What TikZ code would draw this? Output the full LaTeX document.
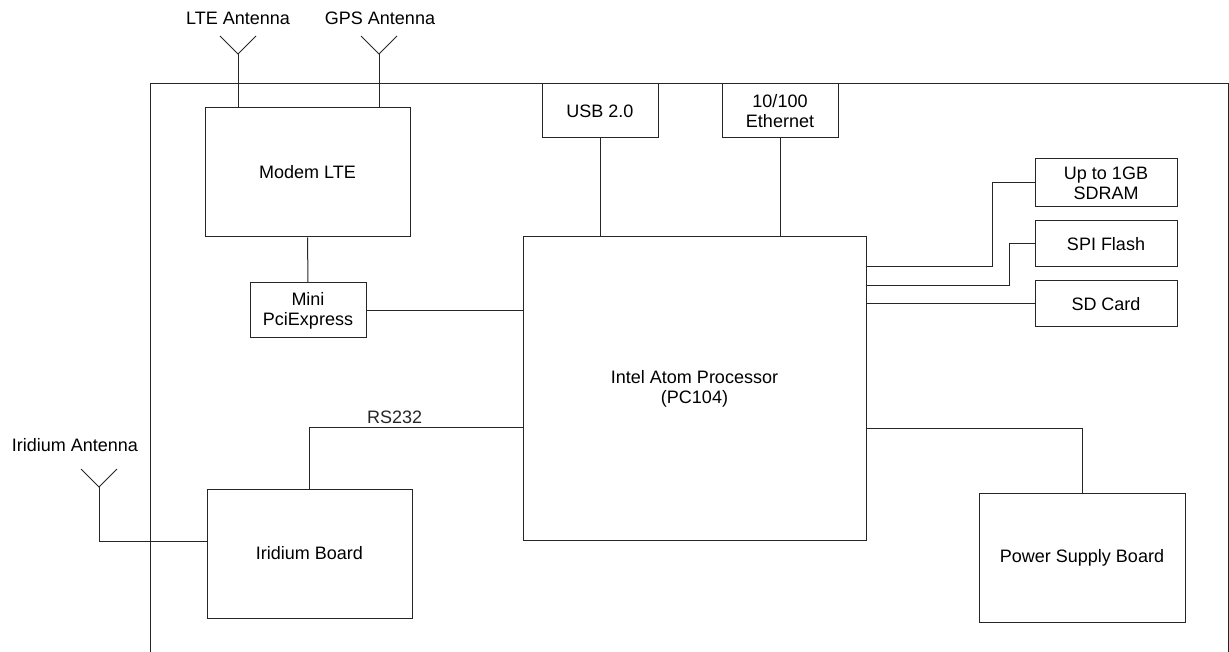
\documentclass[tikz,border=0pt]{standalone}
\usepackage{fontspec}
\setmainfont{Liberation Sans}
\usetikzlibrary{positioning}

\tikzset{
  block/.style={draw, black!85, text=black, inner sep=0pt, align=center},
  wire/.style={black!85, line width=1pt},
}

\begin{document}
\begin{tikzpicture}[x=1pt, y=-1pt, line width=1pt, font=\fontsize{18}{20}\selectfont]
\useasboundingbox (0,0) rectangle (1229,652);
% board outline
\draw [black!85] (150,652) -- (150,84) -- (1228,84) -- (1228,652);
% boxes
\node [block, minimum width=205, minimum height=129] (modem) at (307.5,172.5) {Modem LTE};
\node [block, minimum width=116, minimum height=55] (mini) at (308,310.5) {Mini\\PciExpress};
\node [block, minimum width=343, minimum height=303] (proc) at (694.5,388.5) {Intel Atom Processor\\(PC104)};
\node [block, minimum width=116, minimum height=54] (usb) at (600,111) {USB 2.0};
\node [block, minimum width=116, minimum height=54] (eth) at (780,111) {10/100\\Ethernet};
\node [block, minimum width=142, minimum height=48] (sdram) at (1106,183) {Up to 1GB\\SDRAM};
\node [block, minimum width=142, minimum height=46] (spi) at (1106,244) {SPI Flash};
\node [block, minimum width=142, minimum height=46] (sd) at (1106,304) {SD Card};
\node [block, minimum width=206, minimum height=129] (power) at (1082,557.5) {Power Supply Board};
\node [block, minimum width=205, minimum height=129] (iridium) at (309.5,553.5) {Iridium Board};
% antennas
\coordinate (lteant) at (238,54);
\coordinate (gpsant) at (379,54);
\coordinate (irant) at (99,487);
\node (ltelbl) at (238,18) {LTE Antenna};
\node (gpslbl) at (380,18) {GPS Antenna};
\node (irlbl) at (75,445) {Iridium Antenna};
\foreach \a in {lteant,gpsant,irant}
  \draw [wire] ([shift={(-18,-18)}]\a) -- (\a) -- ([shift={(18,-18)}]\a);
\draw [wire] (lteant) -- (lteant |- modem.north);
\draw [wire] (gpsant) -- (gpsant |- modem.north);
\draw [wire] (irant) |- ([yshift=12pt]iridium.west);
% links
\draw [wire] (modem.south) -- (mini.north);
\draw [wire] (mini.east) -- (mini.east -| proc.west);
\draw [wire] (usb.south) -- (usb.south |- proc.north);
\draw [wire] (eth.south) -- (eth.south |- proc.north);
\draw [wire] ([yshift=-30pt]proc.north east) -- ++(126,0) |- (sdram.west);
\draw [wire] ([yshift=-49pt]proc.north east) -- ++(143,0) |- (spi.west);
\draw [wire] (proc.east |- sd.west) -- (sd.west);
\draw [wire] ([yshift=-192pt]proc.north east) -| (power.north);
\draw [wire] ([yshift=-191pt]proc.north west) -| node [pos=0.3, above] {RS232} (iridium.north);
\end{tikzpicture}
\end{document}
